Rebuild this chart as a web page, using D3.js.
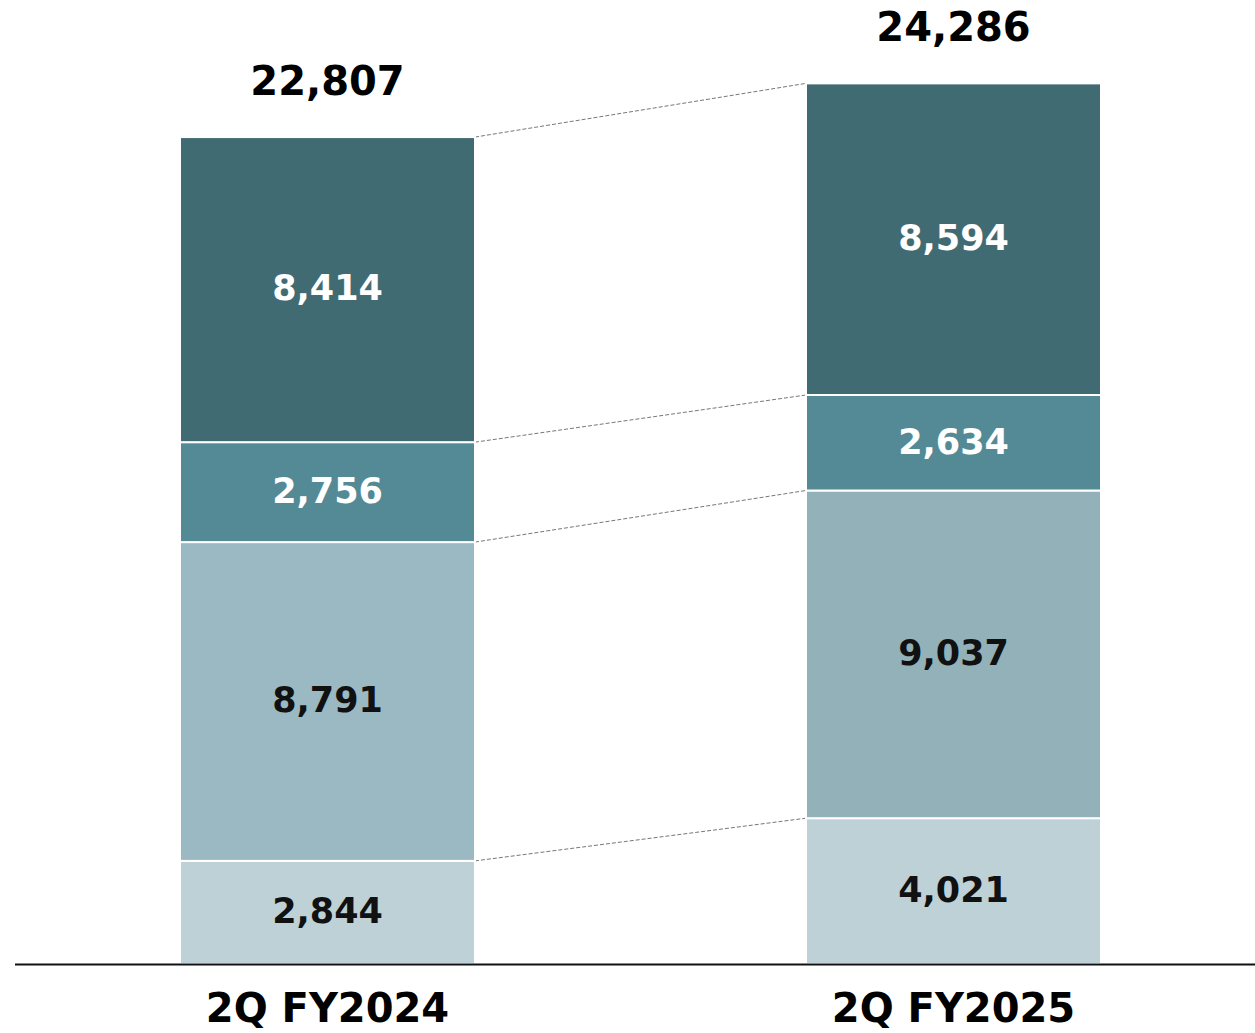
<!DOCTYPE html>
<html><head><meta charset="utf-8">
<script src="https://cdn.jsdelivr.net/npm/d3@7"></script>
<style>body{margin:0;background:#fff}svg{display:block}</style>
</head><body>
<script>
const categories = ["2Q FY2024", "2Q FY2025"];
const s1 = [2844, 4021];
const s2 = [8791, 9037];
const s3 = [2756, 2634];
const s4 = [8414, 8594];
const totals = [22807, 24286];
const tickLabels = categories;

const fills = [["#bdd1d6","#bdd1d6"],["#9bb9c2","#92b1b8"],["#548a96","#548a96"],["#416b73","#416b73"]];
const textColors = ["#111","#111","#fff","#fff"];

const W = 1255, H = 1033;
const svg = d3.select("body").append("svg").attr("width", W).attr("height", H);
const font = "'DejaVu Sans', Verdana, sans-serif";

const baseY = 964;
const xb = d3.scalePoint().domain(categories).range([327.5, 953.5]);
const bw = 295;
const y = d3.scaleLinear().domain([0, 22807]).range([baseY, 137]);

const data = categories.map((c, i) => ({cat: c, s1: s1[i], s2: s2[i], s3: s3[i], s4: s4[i]}));
const stack = d3.stack().keys(["s1","s2","s3","s4"])(data);

const g = svg.append("g");
stack.forEach((layer) => {
  g.append("line")
    .attr("x1", xb(categories[0]) + bw/2).attr("y1", y(layer[0][1]))
    .attr("x2", xb(categories[1]) - bw/2).attr("y2", y(layer[1][1]))
    .attr("stroke", "#777").attr("stroke-width", 1).attr("stroke-dasharray", "4,2");
});

stack.forEach((layer, li) => {
  layer.forEach((d, i) => {
    const cx = xb(categories[i]);
    g.append("rect")
      .attr("x", cx - bw/2).attr("y", y(d[1]))
      .attr("width", bw).attr("height", y(d[0]) - y(d[1]))
      .attr("fill", fills[li][i])
      .attr("stroke", "#fff").attr("stroke-width", 2);
    g.append("text")
      .attr("x", cx).attr("y", (y(d[0]) + y(d[1]))/2)
      .attr("dy", "0.31em")
      .attr("text-anchor", "middle")
      .attr("font-family", font).attr("font-weight", "bold").attr("font-size", 35)
      .attr("fill", textColors[li])
      .text(d3.format(",")(d[1]-d[0]));
  });
});

totals.forEach((t, i) => {
  g.append("text")
    .attr("x", xb(categories[i])).attr("y", y(t) - 42)
    .attr("text-anchor", "middle")
    .attr("font-family", font).attr("font-weight", "bold").attr("font-size", 40)
    .attr("fill", "#000")
    .text(d3.format(",")(t));
});

svg.append("line").attr("x1", 15).attr("x2", 1255).attr("y1", baseY + 0.5).attr("y2", baseY + 0.5)
  .attr("stroke", "#111").attr("stroke-width", 2);

tickLabels.forEach((c, i) => {
  svg.append("text")
    .attr("x", xb(categories[i])).attr("y", 1022)
    .attr("text-anchor", "middle")
    .attr("font-family", font).attr("font-weight", "bold").attr("font-size", 40)
    .attr("fill", "#000")
    .text(c);
});
</script>
</body></html>
